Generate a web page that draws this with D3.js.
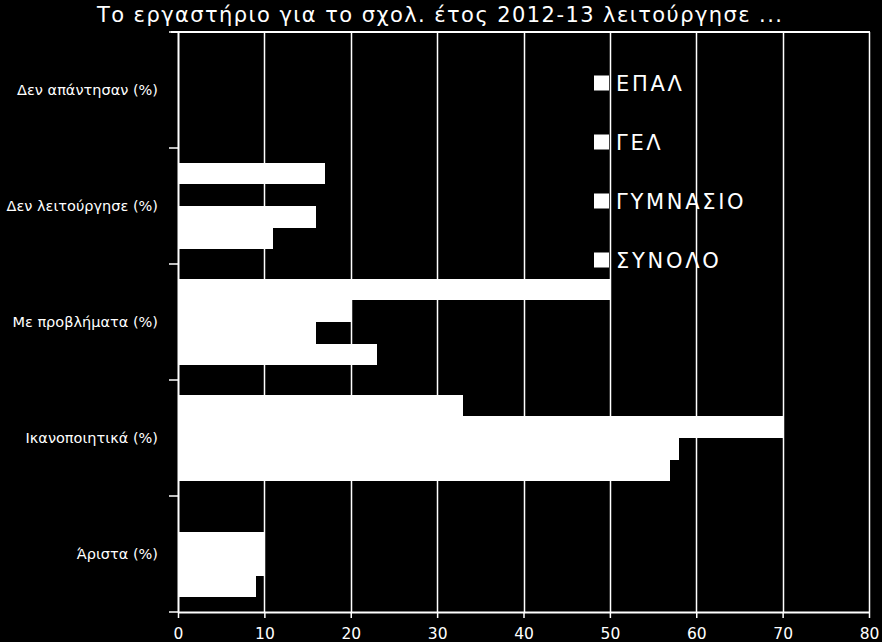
<!DOCTYPE html>
<html>
<head>
<meta charset="utf-8">
<script src="https://cdn.jsdelivr.net/npm/d3@7"></script>
<style>
  html, body { margin: 0; padding: 0; background: #000; }
  svg { display: block; }
  text { font-family: "DejaVu Sans", sans-serif; fill: #fff; }
</style>
</head>
<body>
<script>
const categories = ["Δεν απάντησαν (%)", "Δεν λειτούργησε (%)", "Με προβλήματα (%)", "Ικανοποιητικά (%)", "Άριστα (%)"];
const seriesNames = ["ΕΠΑΛ", "ΓΕΛ", "ΓΥΜΝΑΣΙΟ", "ΣΥΝΟΛΟ"];
const epal     = [0, 17, 50, 33, 0];
const gel      = [0, 0, 20, 70, 10];
const gymnasio = [0, 16, 16, 58, 10];
const synolo   = [0, 11, 23, 57, 9];
const xTicks = [0, 10, 20, 30, 40, 50, 60, 70, 80];
const title = "Το εργαστήριο για το σχολ. έτος 2012-13 λειτούργησε ...";

const values = [epal, gel, gymnasio, synolo];
const W = 882, H = 642;
const m = {left: 178, right: 13, top: 32, bottom: 30};

const svg = d3.select("body").append("svg").attr("width", W).attr("height", H);
svg.append("rect").attr("width", W).attr("height", H).attr("fill", "#000");

const x = d3.scaleLinear().domain([0, 80]).range([m.left, W - m.right]);
const y = d3.scaleBand().domain(categories).range([m.top, H - m.bottom]).padding(0);
const bw = y.bandwidth();
const pad = bw * 0.127;
const ys = d3.scaleBand().domain(seriesNames).range([pad, bw - pad]).padding(0);

// gridlines
svg.append("g").selectAll("line").data(xTicks.slice(1)).join("line")
  .attr("x1", d => Math.round(x(d)) + 0.5).attr("x2", d => Math.round(x(d)) + 0.5)
  .attr("y1", m.top).attr("y2", H - m.bottom)
  .attr("stroke", "#fff").attr("stroke-width", 1.5);

// top border
svg.append("line").attr("x1", m.left - 7).attr("x2", W - m.right + 1)
  .attr("y1", m.top).attr("y2", m.top).attr("stroke", "#fff").attr("stroke-width", 2);

// bars
const data = [];
categories.forEach((c, i) => seriesNames.forEach((s, j) => data.push({c, s, v: values[j][i]})));
svg.append("g").attr("shape-rendering", "crispEdges")
  .selectAll("rect").data(data.filter(d => d.v > 0)).join("rect")
  .attr("x", x(0))
  .attr("y", d => Math.round(y(d.c) + ys(d.s)))
  .attr("width", d => x(d.v) - x(0))
  .attr("height", d => Math.round(y(d.c) + ys(d.s) + ys.bandwidth()) - Math.round(y(d.c) + ys(d.s)))
  .attr("fill", "#fff");

// x axis
const xAxis = svg.append("g").attr("transform", `translate(0,${H - m.bottom})`)
  .call(d3.axisBottom(x).tickValues(xTicks).tickSize(6).tickPadding(10).tickSizeOuter(0));
xAxis.select(".domain").attr("stroke", "#fff").attr("stroke-width", 2);
xAxis.selectAll(".tick line").attr("stroke", "#fff").attr("stroke-width", 1.5);
xAxis.selectAll(".tick text").attr("fill", "#fff").attr("font-size", 15.5)
  .attr("font-family", "DejaVu Sans, sans-serif");

// y axis
const yAxis = svg.append("g").attr("transform", `translate(${m.left},0)`)
  .call(d3.axisLeft(y).tickSize(0).tickPadding(20));
yAxis.select(".domain").attr("stroke", "#fff").attr("stroke-width", 2);
yAxis.selectAll(".tick text").attr("fill", "#fff").attr("font-size", 14.5)
  .attr("font-family", "DejaVu Sans, sans-serif");
// boundary ticks
const bounds = categories.map(c => y(c)).concat([H - m.bottom]);
svg.append("g").selectAll("line").data(bounds).join("line")
  .attr("x1", m.left - 9).attr("x2", m.left)
  .attr("y1", d => d).attr("y2", d => d)
  .attr("stroke", "#fff").attr("stroke-width", 1.5);

// title
svg.append("text").attr("x", 97).attr("y", 22)
  .attr("font-size", 21).attr("textLength", 685).attr("lengthAdjust", "spacing").text(title);

// legend
const lg = svg.append("g");
seriesNames.forEach((s, i) => {
  const cy = 83 + i * 59;
  lg.append("rect").attr("x", 594).attr("y", cy - 7.5).attr("width", 15).attr("height", 15).attr("fill", "#fff");
  lg.append("text").attr("x", 616).attr("y", cy + 7.5).attr("font-size", 21)
    .attr("letter-spacing", 2.7).text(s);
});
</script>
</body>
</html>
